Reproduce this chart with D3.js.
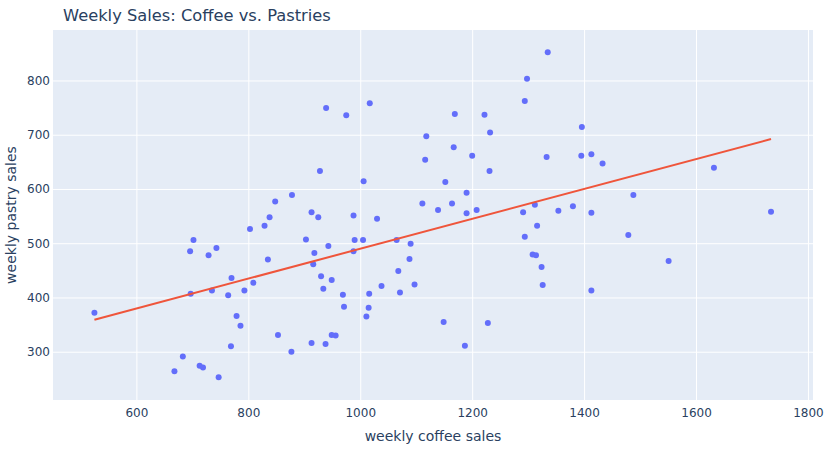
<!DOCTYPE html>
<html>
<head>
<meta charset="utf-8">
<script src="https://cdn.jsdelivr.net/npm/d3@7"></script>
<style>
  body { margin: 0; background: #fff; }
  text { font-family: Verdana, "DejaVu Sans", sans-serif; fill: #2a3f5f; }
</style>
</head>
<body>
<script>
var width = 837, height = 450;
var margin = { top: 30, right: 24, bottom: 50, left: 53 };

// weekly coffee sales (x) and weekly pastry sales (y)
var coffee = [525, 696, 702, 697, 729, 743, 735, 764, 770, 779, 786, 769, 793, 809, 803,
  835, 829, 838, 848, 853, 683, 668, 713, 719, 747, 928, 1006, 1152, 1190, 878,
  1111, 1164, 1139, 1190, 913, 925, 988, 1030, 903, 990, 1005, 1065, 1090, 943, 918,
  988, 1088, 916, 1068, 930, 949, 934, 1038, 1097, 969, 1016, 1071, 971, 1015, 1011,
  913, 938, 949, 956, 877, 1149, 1187, 939, 975, 1017, 1169, 1118, 1167, 1116, 1335,
  1298, 1294, 1222, 1232, 1396, 1200, 1333, 1395, 1413, 1433, 1231, 1488, 1208, 1291, 1312,
  1354, 1380, 1413, 1316, 1294, 1479, 1308, 1314, 1324, 1326, 1413, 1228, 1551, 1632, 1734];
var pastry = [372, 485, 506, 407, 478, 491, 413, 404, 436, 366, 348, 310, 413, 427, 526,
  470, 532, 548, 577, 331, 291, 264, 274, 271, 253, 633, 614, 613, 593, 589,
  573, 573, 561, 555, 557, 548, 551, 545, 507, 506, 506, 506, 499, 495, 482,
  485, 471, 461, 449, 439, 432, 416, 421, 424, 405, 407, 409, 383, 381, 365,
  316, 314, 331, 330, 300, 355, 311, 749, 736, 758, 738, 697, 677, 654, 852,
  803, 762, 737, 704, 714, 661, 659, 661, 664, 647, 633, 589, 561, 557, 571,
  560, 568, 556, 532, 512, 515, 479, 478, 456, 423, 413, 353, 467, 639, 558];

// trend line end points
var trendX = [525, 1734];
var trendY = [359, 692];

var xTicks = [600, 800, 1000, 1200, 1400, 1600, 1800];
var yTicks = [300, 400, 500, 600, 700, 800];

var svg = d3.select("body").append("svg")
    .attr("width", width)
    .attr("height", height);

var x = d3.scaleLinear().domain([451, 1809]).range([margin.left, width - margin.right]);
var y = d3.scaleLinear().domain([211, 893]).range([height - margin.bottom, margin.top]);

// plot background
svg.append("rect")
    .attr("x", margin.left).attr("y", margin.top)
    .attr("width", width - margin.left - margin.right)
    .attr("height", height - margin.top - margin.bottom)
    .attr("fill", "#e5ecf6");

// grid
svg.append("g")
    .attr("transform", "translate(0," + (height - margin.bottom) + ")")
    .call(d3.axisBottom(x).tickValues(xTicks).tickSize(-(height - margin.top - margin.bottom)).tickFormat(""))
    .call(g => g.select(".domain").remove())
    .call(g => g.selectAll("line").attr("stroke", "#fff").attr("stroke-width", 1));

svg.append("g")
    .attr("transform", "translate(" + margin.left + ",0)")
    .call(d3.axisLeft(y).tickValues(yTicks).tickSize(-(width - margin.left - margin.right)).tickFormat(""))
    .call(g => g.select(".domain").remove())
    .call(g => g.selectAll("line").attr("stroke", "#fff").attr("stroke-width", 1));

// tick labels
svg.append("g")
    .attr("transform", "translate(0," + (height - margin.bottom) + ")")
    .call(d3.axisBottom(x).tickValues(xTicks).tickSize(0).tickPadding(8).tickFormat(d3.format("d")))
    .call(g => g.select(".domain").remove())
    .call(g => g.selectAll("text").style("font-size", "12px").attr("fill", "#2a3f5f"));

svg.append("g")
    .attr("transform", "translate(" + margin.left + ",0)")
    .call(d3.axisLeft(y).tickValues(yTicks).tickSize(0).tickPadding(3).tickFormat(d3.format("d")))
    .call(g => g.select(".domain").remove())
    .call(g => g.selectAll("text").style("font-size", "12px").attr("fill", "#2a3f5f"));

// points
var pts = coffee.map((c, i) => ({ c: c, p: pastry[i] }));
svg.append("g")
    .selectAll("circle")
    .data(pts)
    .enter()
    .append("circle")
    .attr("cx", d => x(d.c))
    .attr("cy", d => y(d.p))
    .attr("r", 3)
    .attr("fill", "#636efa");

// trend line
svg.append("path")
    .datum(trendX.map((v, i) => [v, trendY[i]]))
    .attr("d", d3.line().x(d => x(d[0])).y(d => y(d[1])))
    .attr("fill", "none")
    .attr("stroke", "#ef553b")
    .attr("stroke-width", 2);

// titles
svg.append("text")
    .attr("x", 63).attr("y", 21)
    .style("font-size", "16.3px")
    .text("Weekly Sales: Coffee vs. Pastries");

svg.append("text")
    .attr("x", (margin.left + width - margin.right) / 2)
    .attr("y", 441)
    .attr("text-anchor", "middle")
    .style("font-size", "14px")
    .text("weekly coffee sales");

svg.append("text")
    .attr("transform", "translate(16," + ((margin.top + height - margin.bottom) / 2) + ") rotate(-90)")
    .attr("text-anchor", "middle")
    .style("font-size", "14px")
    .text("weekly pastry sales");
</script>
</body>
</html>
